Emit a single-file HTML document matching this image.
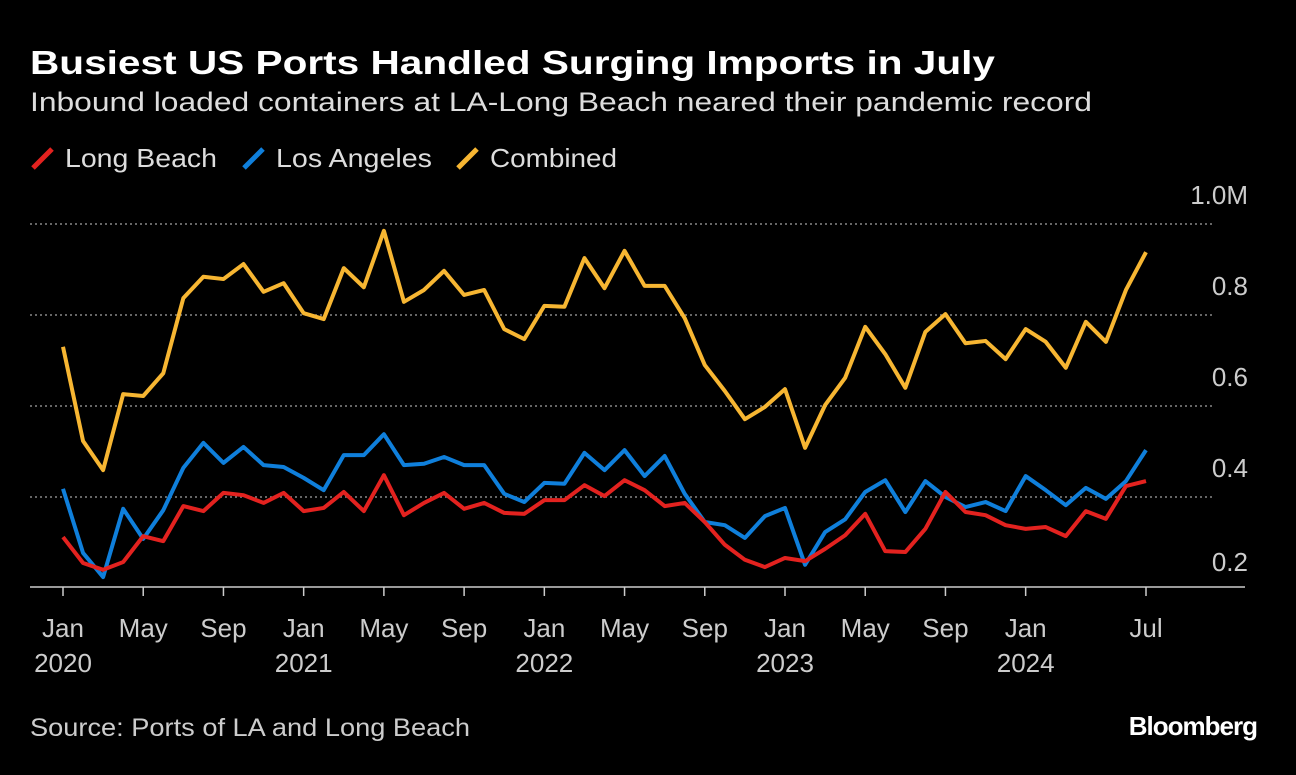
<!DOCTYPE html>
<html><head><meta charset="utf-8"><style>
body{margin:0;background:#000;width:1296px;height:770px;overflow:hidden;font-family:"Liberation Sans",sans-serif;color:#fff}
</style></head><body>
<svg width="1296" height="770">
<text x="30" y="74" font-size="33" font-weight="bold" fill="#fff" textLength="965" lengthAdjust="spacingAndGlyphs">Busiest US Ports Handled Surging Imports in July</text>
<text x="30" y="111" font-size="27" fill="#ddd" textLength="1062" lengthAdjust="spacingAndGlyphs">Inbound loaded containers at LA-Long Beach neared their pandemic record</text>
<g font-size="26" fill="#ddd">
<g><line x1="33" y1="168" x2="52" y2="149" stroke="#e3221f" stroke-width="5"/><text x="65" y="167" textLength="152" lengthAdjust="spacingAndGlyphs">Long Beach</text></g>
<g><line x1="244" y1="168" x2="263" y2="149" stroke="#0f7fdb" stroke-width="5"/><text x="276" y="167" textLength="156" lengthAdjust="spacingAndGlyphs">Los Angeles</text></g>
<g><line x1="458" y1="168" x2="477" y2="149" stroke="#f7b632" stroke-width="5"/><text x="490" y="167" textLength="127" lengthAdjust="spacingAndGlyphs">Combined</text></g>
</g>
<g id="grid"></g><g id="axes"></g><g id="lines"></g>
<text x="30" y="736" font-size="25" fill="#ccc" textLength="440" lengthAdjust="spacingAndGlyphs">Source: Ports of LA and Long Beach</text>
<text x="1257" y="735" font-size="26" font-weight="bold" fill="#fff" text-anchor="end" letter-spacing="-1">Bloomberg</text>
</svg>
<script>
const combined=[0.730,0.523,0.459,0.626,0.622,0.672,0.837,0.884,0.879,0.912,0.851,0.870,0.804,0.791,0.903,0.861,0.985,0.829,0.855,0.897,0.844,0.855,0.769,0.747,0.820,0.818,0.925,0.859,0.941,0.864,0.864,0.793,0.690,0.633,0.571,0.598,0.637,0.508,0.602,0.662,0.774,0.714,0.640,0.763,0.802,0.738,0.743,0.703,0.769,0.741,0.684,0.785,0.741,0.855,0.938];
const losAngeles=[0.418,0.277,0.224,0.374,0.308,0.371,0.464,0.519,0.475,0.510,0.470,0.466,0.442,0.415,0.492,0.492,0.538,0.470,0.473,0.488,0.470,0.470,0.407,0.389,0.431,0.429,0.497,0.459,0.503,0.446,0.490,0.407,0.345,0.338,0.310,0.358,0.376,0.251,0.323,0.351,0.411,0.437,0.367,0.435,0.400,0.378,0.389,0.369,0.446,0.415,0.382,0.420,0.396,0.435,0.503];
const longBeach=[0.312,0.255,0.240,0.257,0.314,0.303,0.380,0.369,0.409,0.404,0.387,0.409,0.369,0.376,0.411,0.369,0.448,0.360,0.387,0.409,0.374,0.387,0.365,0.363,0.393,0.393,0.426,0.402,0.437,0.415,0.380,0.387,0.345,0.295,0.262,0.246,0.266,0.259,0.286,0.316,0.363,0.281,0.279,0.330,0.411,0.367,0.360,0.338,0.330,0.334,0.314,0.369,0.352,0.424,0.435];
const yTicks=[1.0,0.8,0.6,0.4];
const yTickLabels=["1.0M","0.8","0.6","0.4"];
const xTickIdx=[0,4,8,12,16,20,24,28,32,36,40,44,48,54];
const xTickLabels=[["Jan","2020"],["May",""],["Sep",""],["Jan","2021"],["May",""],["Sep",""],["Jan","2022"],["May",""],["Sep",""],["Jan","2023"],["May",""],["Sep",""],["Jan","2024"],["Jul",""]];
const NS="http://www.w3.org/2000/svg";
const X=i=>63+i*(1146-63)/54;
const Y=v=>224+(1-v)*455;
function mk(t,a,p){const e=document.createElementNS(NS,t);for(const k in a)e.setAttribute(k,a[k]);p.appendChild(e);return e;}
const g=document.getElementById('grid'),ax=document.getElementById('axes'),ln=document.getElementById('lines');
yTicks.forEach((v,i)=>{
 const l=mk('line',{x1:30,x2:1215,y1:Y(v),y2:Y(v),stroke:'#888','stroke-width':1.5,'stroke-dasharray':'2,3'},g);
 
 
 const t=mk('text',{x:1248,y:Y(v)-20,'font-size':26,fill:'#ccc','text-anchor':'end'},g);
 t.textContent=yTickLabels[i];
 
 
});
const t2=mk('text',{x:1248,y:Y(0.2)-17,'font-size':26,fill:'#ccc','text-anchor':'end'},g);
t2.textContent="0.2";


const base=mk('line',{x1:30,x2:1245,y1:587,y2:587,stroke:'#ccc','stroke-width':1.5},ax);


xTickIdx.forEach((idx,i)=>{
 mk('line',{x1:X(idx),x2:X(idx),y1:587,y2:596,stroke:'#ccc','stroke-width':1.5},ax);
 const t=mk('text',{x:X(idx),y:637,'font-size':26,fill:'#ccc','text-anchor':'middle'},ax);
 t.textContent=xTickLabels[i][0];
 
 
 if(xTickLabels[i][1]){const t3=mk('text',{x:X(idx),y:672,'font-size':26,fill:'#ccc','text-anchor':'middle'},ax);t3.textContent=xTickLabels[i][1];
 
 }
});
[[combined,'#f7b632','combined-line'],[losAngeles,'#0f7fdb','los-angeles-line'],[longBeach,'#e3221f','long-beach-line']].forEach(([d,c,n])=>{
 const p=mk('polyline',{points:d.map((v,i)=>X(i)+','+Y(v)).join(' '),fill:'none',stroke:c,'stroke-width':4,'stroke-linejoin':'round'},ln);
 
 
});
</script>
</body></html>
